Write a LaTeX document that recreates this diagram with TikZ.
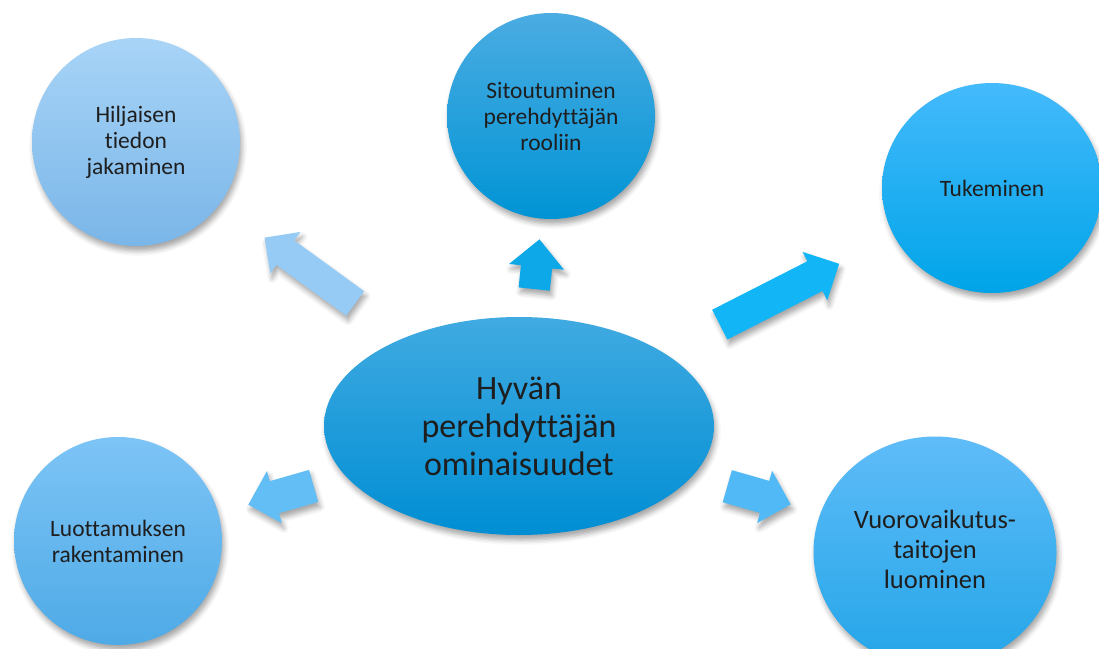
\documentclass[tikz,border=0pt]{standalone}
\usepackage{fontspec}
\setmainfont{Carlito}[Ligatures=NoCommon]
\usetikzlibrary{shapes.geometric, shapes.arrows, shadows.blur}
\definecolor{tekstivari}{RGB}{30,30,30}
\definecolor{hubYla}{RGB}{64,170,225}
\definecolor{hubAla}{RGB}{0,142,212}
\definecolor{hiljYla}{RGB}{168,212,247}
\definecolor{hiljAla}{RGB}{122,182,232}
\definecolor{sitoYla}{RGB}{75,172,226}
\definecolor{sitoAla}{RGB}{0,148,213}
\definecolor{tukiYla}{RGB}{68,186,252}
\definecolor{tukiAla}{RGB}{0,164,232}
\definecolor{luotYla}{RGB}{125,196,246}
\definecolor{luotAla}{RGB}{78,170,230}
\definecolor{vuorYla}{RGB}{95,188,248}
\definecolor{vuorAla}{RGB}{35,165,232}

\begin{document}
\begin{tikzpicture}[x=1pt, y=-1pt,
  varjo/.style={blur shadow={shadow xshift=2pt, shadow yshift=-5pt, shadow blur radius=5pt, shadow opacity=35}},
  pallo/.style={ellipse, inner sep=0pt, align=center, text=tekstivari,
    font=\fontsize{23.5}{26}\selectfont, varjo},
  nuoli/.style={single arrow, inner xsep=0pt, single arrow head extend=10.5pt, varjo}]
  \path[use as bounding box, clip] (0,0) rectangle (1099,648);

  \node[nuoli, fill={rgb,255:red,150;green,203;blue,245}, inner ysep=15pt,
    minimum height=112pt, rotate=144] (n1) at (316,275) {};
  \node[nuoli, fill={rgb,255:red,12;green,168;blue,232}, inner ysep=15.5pt,
    single arrow head extend=12pt, minimum height=50pt, rotate=84] (n2) at (536,272) {};
  \node[nuoli, fill={rgb,255:red,18;green,182;blue,246}, inner ysep=16.5pt,
    minimum height=134pt, rotate=27] (n3) at (772,298) {};
  \node[nuoli, fill={rgb,255:red,100;green,190;blue,246}, inner ysep=16.5pt,
    minimum height=68pt, rotate=196] (n4) at (289,493) {};
  \node[nuoli, fill={rgb,255:red,80;green,185;blue,246}, inner ysep=16.5pt,
    minimum height=66pt, rotate=-16] (n5) at (751,493) {};

  \node[pallo, minimum width=390pt, minimum height=218pt, top color=hubYla, bottom color=hubAla,
    font=\fontsize{34}{38}\selectfont] (hub) at (519,426) {Hyvän\\perehdyttäjän\\ominaisuudet};
  \node[pallo, minimum width=208pt, minimum height=208pt, top color=hiljYla, bottom color=hiljAla]
    (hiljainen) at (136,142) {Hiljaisen\\tiedon\\jakaminen};
  \node[pallo, minimum width=208pt, minimum height=206pt, top color=sitoYla, bottom color=sitoAla]
    (sitoutuminen) at (551,116) {Sitoutuminen\\perehdyttäjän\\rooliin};
  \node[pallo, minimum width=220pt, minimum height=210pt, top color=tukiYla, bottom color=tukiAla]
    (tuki) at (992,188) {Tukeminen};
  \node[pallo, minimum width=208pt, minimum height=208pt, top color=luotYla, bottom color=luotAla]
    (luottamus) at (118,541) {Luottamuksen\\rakentaminen};
  \node[pallo, minimum width=243pt, minimum height=231pt, top color=vuorYla, bottom color=vuorAla,
    font=\fontsize{26.5}{30}\selectfont] (vuoro) at (935,552)
    {\raisebox{7pt}{\begin{tabular}{@{}c@{}}Vuorovaikutus-\\taitojen\\luominen\end{tabular}}};
\end{tikzpicture}
\end{document}
